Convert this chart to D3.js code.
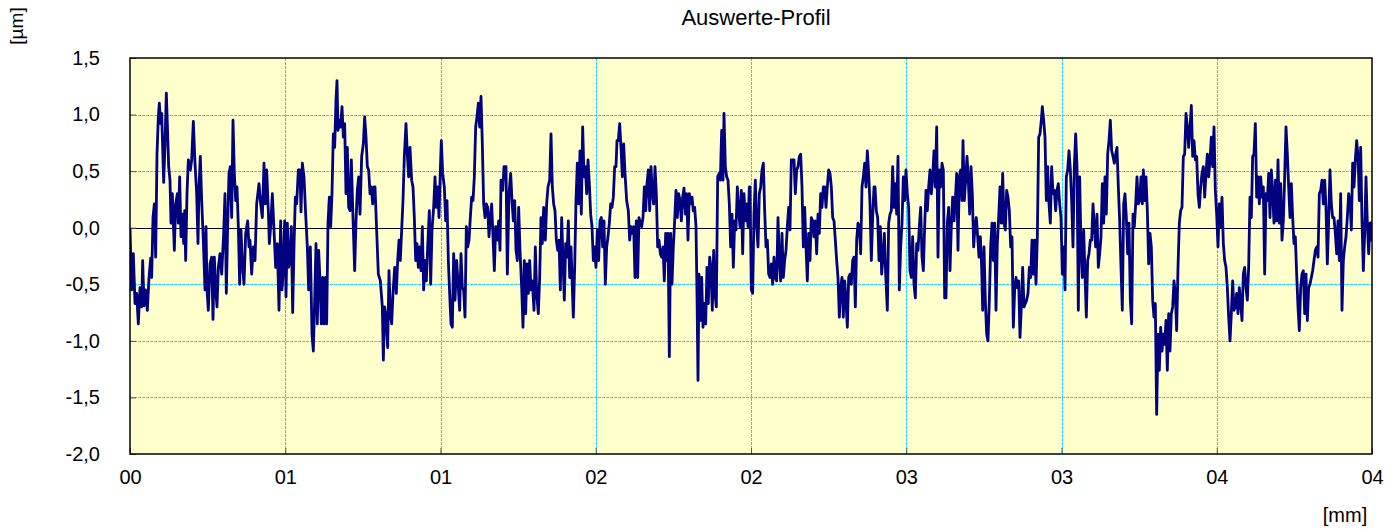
<!DOCTYPE html>
<html>
<head>
<meta charset="utf-8">
<script src="https://cdn.jsdelivr.net/npm/d3@7/dist/d3.min.js"></script>
<style>
  html, body { margin: 0; padding: 0; background: #fff; }
  svg text { font-family: "Liberation Sans", Arial, sans-serif; fill: #000; }
</style>
</head>
<body>
<div id="chart"></div>
<script>
// profile trace: sample number along the trace and height in µm
var sampleStepMm = 4 / 3726;

var sampleNo = [
  0,5,10,15,20,25,30,35,38,42,47,52,57,62,65,69,73,77,81,85,88,92,95,101,105,109,112,116,120,123,127,133,137,142,145,149,153,157,161,164,167,171,175,181,185,190,195,200,204,207,211,215,220,225,228,231,235,240,245,249,253,257,261,265,270,275,281,285,289,293,297,301,305,309,313,317,321,325,329,333,337,342,347,353,357,
  360,365,370,375,380,387,392,397,402,406,410,415,418,422,427,432,437,442,447,452,456,460,464,468,472,476,480,484,488,492,496,500,505,510,513,517,522,527,532,536,541,546,550,554,558,562,566,570,574,578,582,586,590,594,598,602,606,610,614,618,621,624,628,632,636,640,644,648,652,656,660,664,668,674,678,682,686,690,695,700,704,708,712,716,720,724,728,732,
  735,745,751,757,760,764,768,773,777,781,785,789,794,799,803,807,811,815,819,823,828,832,836,840,845,849,853,857,861,865,869,873,877,881,885,889,893,898,902,906,911,915,919,923,927,931,934,938,943,947,951,955,959,963,967,971,975,980,985,989,993,997,1001,1005,1009,1013,1017,1021,1025,1029,1033,1037,1041,1045,1049,1053,1057,1061,1065,1069,1073,1077,1081,1085,1089,1093,1097,1102,1106,
  1110,1113,1118,1122,1128,1132,1137,1142,1146,1150,1154,1158,1162,1166,1170,1175,1179,1183,1187,1191,1195,1199,1203,1207,1212,1216,1220,1225,1229,1233,1237,1241,1246,1250,1254,1259,1263,1267,1271,1275,1279,1283,1287,1291,1295,1299,1303,1307,1311,1315,1319,1323,1326,1330,1334,1338,1342,1346,1350,1354,1358,1362,1366,1370,1374,1378,1382,1386,1390,1394,1398,1402,1406,1410,1414,1418,1422,1426,1430,1434,1438,1442,1446,1450,1454,1458,1461,1465,1469,1473,1477,1481,1485,
  1490,1495,1499,1503,1507,1511,1515,1519,1523,1527,1531,1535,1539,1543,1547,1551,1555,1559,1563,1567,1571,1575,1579,1583,1587,1591,1595,1599,1603,1607,1611,1614,1618,1622,1626,1630,1634,1638,1642,1646,1650,1654,1658,1662,1666,1670,1674,1678,1682,1686,1690,1694,1698,1701,1704,1707,1711,1715,1719,1723,1727,1731,1735,1739,1743,1747,1751,1755,1759,1763,1767,1771,1775,1779,1782,1786,1790,1794,1798,1802,1806,1810,1814,1818,1822,1826,1830,1834,1838,1842,1846,1850,1854,1858,
  1860,1864,1868,1872,1876,1880,1884,1888,1892,1896,1900,1904,1908,1912,1916,1920,1924,1928,1932,1936,1940,1944,1948,1952,1956,1960,1964,1968,1972,1976,1980,1984,1988,1992,1996,2000,2004,2008,2012,2016,2020,2024,2028,2032,2036,2040,2044,2048,2052,2056,2060,2064,2068,2072,2076,2080,2084,2088,2092,2096,2100,2104,2108,2112,2116,2120,2124,2128,2132,2136,2140,2144,2148,2152,2156,2160,2164,2168,2172,2176,2180,2184,2188,2192,2196,2200,2204,2208,2212,2216,2220,2224,2228,2232,
  2235,2239,2243,2247,2251,2255,2259,2263,2267,2272,2276,2280,2284,2288,2292,2296,2300,2304,2308,2312,2316,2320,2324,2328,2332,2336,2340,2344,2348,2352,2356,2360,2364,2368,2372,2376,2380,2384,2388,2392,2396,2400,2404,2408,2412,2416,2420,2424,2428,2432,2436,2440,2444,2448,2452,2456,2460,2464,2468,2472,2476,2480,2484,2488,2492,2496,2499,2503,2507,2511,2515,2519,2523,2527,2531,2535,2539,2543,2547,2551,2555,2558,2562,2566,2570,2574,2578,2582,2586,2590,2594,2598,2602,2606,
  2610,2614,2618,2622,2626,2630,2634,2638,2642,2646,2650,2654,2658,2662,2666,2670,2674,2678,2682,2686,2690,2694,2698,2702,2706,2710,2714,2718,2722,2726,2730,2734,2737,2741,2745,2749,2753,2757,2761,2765,2769,2773,2777,2781,2785,2789,2793,2797,2801,2805,2809,2813,2817,2821,2825,2829,2833,2837,2841,2845,2849,2853,2857,2861,2865,2869,2873,2877,2881,2885,2889,2893,2897,2901,2905,2909,2913,2917,2921,2925,2929,2933,2937,2941,2945,2949,2953,2957,2961,2965,2969,2973,2977,2981,
  2985,2989,2993,2997,3001,3005,3009,3013,3017,3021,3025,3029,3033,3037,3040,3044,3048,3052,3056,3060,3064,3068,3072,3076,3080,3084,3088,3092,3096,3100,3104,3108,3112,3116,3120,3124,3128,3132,3136,3140,3144,3148,3152,3156,3160,3164,3168,3172,3176,3180,3184,3188,3192,3196,3200,3204,3208,3212,3216,3220,3224,3228,3232,3236,3240,3244,3248,3252,3256,3260,3264,3268,3272,3276,3280,3284,3288,3292,3296,3300,3304,3308,3312,3316,3320,3324,3328,3332,3336,3340,3344,3348,3352,3356,
  3360,3364,3368,3372,3376,3380,3384,3388,3392,3396,3400,3404,3408,3412,3416,3420,3424,3428,3432,3436,3440,3444,3448,3452,3456,3460,3464,3468,3472,3476,3480,3484,3488,3492,3496,3500,3504,3508,3512,3516,3520,3524,3528,3532,3536,3540,3544,3548,3552,3556,3560,3564,3568,3572,3576,3580,3584,3588,3592,3596,3600,3604,3608,3612,3616,3620,3624,3628,3632,3636,3640,3644,3648,3652,3656,3660,3664,3668,3672,3676,3680,3684,3688,3692,3696,3700,3704,3708,3712,3716,3720,3724,3726
];

var heightUm = [
  0.00,-0.55,-0.23,-0.67,-0.58,-0.85,-0.53,-0.70,-0.29,-0.69,-0.55,-0.73,-0.44,-0.27,-0.44,0.09,0.21,-0.26,0.65,0.98,1.10,0.92,1.01,0.40,0.74,1.19,0.92,0.54,0.42,0.04,0.30,-0.20,0.21,0.30,0.04,0.45,-0.08,0.12,-0.14,0.15,-0.29,0.30,0.60,0.51,0.60,0.94,0.57,0.30,-0.14,0.36,0.63,0.24,-0.11,-0.55,0.01,-0.55,-0.73,-0.32,-0.26,-0.81,-0.26,-0.53,-0.70,-0.35,-0.23,-0.41,-0.05,0.30,-0.58,0.01,0.48,0.54,0.09,0.95,0.48,0.24,0.36,0.01,-0.50,-0.02,-0.32,-0.50,-0.05,0.06,-0.17,
  -0.11,-0.41,-0.17,-0.29,0.21,0.39,0.21,0.09,0.57,0.21,0.51,0.15,-0.14,0.01,0.30,-0.02,-0.35,-0.14,-0.73,0.06,-0.55,-0.35,0.06,-0.61,0.04,-0.35,-0.29,0.01,-0.75,-0.17,0.27,0.21,0.51,0.51,0.14,0.57,0.45,0.12,-0.17,-0.55,-0.17,-0.94,-1.09,-0.64,-0.14,-0.85,-0.20,-0.47,-0.85,-0.44,-0.85,-0.44,-0.85,0.04,0.27,0.01,0.30,0.83,0.71,1.13,1.30,0.86,0.95,0.89,1.07,0.80,0.92,0.30,0.71,0.18,0.15,0.60,0.18,-0.38,0.06,0.33,0.45,0.12,0.63,0.74,0.98,0.80,0.54,0.51,0.30,0.36,0.21,0.36,
  0.36,-0.41,-0.47,-0.70,-1.17,-0.70,-0.79,-1.06,-0.38,-0.76,-0.85,-0.58,-0.35,-0.58,-0.29,-0.11,-0.29,-0.02,0.24,0.63,0.92,0.65,0.45,0.71,0.42,0.36,0.09,-0.29,-0.14,-0.35,-0.17,-0.38,0.01,-0.55,-0.29,-0.47,-0.17,0.15,-0.50,-0.02,0.18,0.45,0.18,0.36,0.09,0.51,0.77,0.48,0.36,0.06,0.24,-0.29,-0.58,-0.85,-0.88,-0.23,-0.64,-0.29,-0.53,-0.73,-0.23,-0.53,-0.55,-0.79,0.01,-0.17,-0.11,0.09,0.27,0.24,0.45,0.89,0.98,1.10,0.89,1.16,0.74,0.21,0.09,0.21,0.18,-0.08,0.09,0.21,-0.08,-0.38,0.01,-0.11,0.06,
  -0.20,0.42,0.33,0.54,0.54,-0.41,0.30,0.48,0.24,0.06,0.24,-0.20,-0.29,0.18,-0.20,-0.53,-0.88,-0.29,-0.76,-0.32,-0.58,-0.29,-0.55,-0.47,-0.73,-0.17,-0.58,-0.76,-0.44,0.09,-0.14,0.18,-0.11,0.21,0.36,0.42,0.83,0.36,0.21,0.15,-0.11,-0.20,-0.11,-0.55,0.09,-0.29,-0.64,-0.14,-0.26,0.06,-0.44,-0.17,-0.44,-0.79,-0.35,0.24,0.57,0.21,0.68,0.12,0.89,0.45,0.54,0.30,0.60,0.39,0.12,0.01,-0.29,-0.17,-0.35,-0.02,-0.29,0.06,0.09,-0.17,0.06,-0.50,-0.17,-0.08,0.04,0.21,0.18,0.27,0.54,0.54,0.77,0.77,0.92,0.71,0.45,0.74,0.48,
  0.24,0.15,-0.11,0.01,-0.05,0.01,-0.44,0.06,-0.44,0.09,0.04,0.01,0.09,0.36,0.15,0.39,0.51,0.15,0.54,0.30,0.21,0.54,0.30,-0.17,-0.11,-0.23,-0.26,-0.17,-0.47,-0.05,-0.29,-0.05,-1.14,-0.05,-0.50,-0.17,0.06,0.33,0.09,0.30,0.24,0.06,0.27,0.35,0.12,0.30,-0.11,0.30,0.21,0.27,0.15,0.18,0.01,-0.58,-1.35,-0.41,-0.82,-0.44,-0.88,-0.67,-0.85,-0.35,-0.67,-0.26,-0.35,-0.73,-0.20,-0.58,-0.70,0.45,0.48,0.42,0.86,0.42,1.01,0.54,0.45,0.42,0.21,-0.17,0.12,-0.35,0.06,-0.02,0.36,0.15,0.01,0.33,-0.23,0.30,0.06,0.21,0.01,0.36,
  0.36,-0.55,-0.58,0.12,0.42,0.01,-0.17,0.30,0.36,0.51,0.57,0.15,-0.17,-0.11,-0.41,-0.44,-0.32,-0.50,-0.26,-0.44,-0.47,0.09,-0.29,-0.47,-0.05,-0.44,-0.29,-0.20,0.01,0.18,-0.02,0.60,0.60,0.60,0.30,0.51,0.54,0.63,0.65,0.36,-0.17,0.18,-0.17,-0.47,-0.05,-0.29,0.09,0.06,-0.08,0.06,-0.23,0.12,-0.05,0.30,0.18,0.36,0.36,0.18,0.36,0.51,0.48,0.36,0.09,0.06,-0.11,-0.29,-0.44,-0.79,-0.53,-0.44,-0.79,-0.47,-0.64,-0.88,-0.44,-0.41,-0.50,-0.29,-0.26,-0.70,-0.11,0.04,0.01,-0.23,0.36,0.45,0.57,0.36,0.68,0.48,0.21,-0.29,0.09,0.36,
  0.36,0.15,0.09,-0.29,0.01,-0.41,-0.26,-0.05,-0.41,-0.73,0.04,0.12,0.15,0.54,0.18,0.39,0.12,0.63,-0.55,-0.17,0.04,0.45,0.24,0.51,0.30,0.18,-0.38,-0.44,-0.08,-0.50,-0.62,-0.14,-0.20,0.01,0.18,-0.26,-0.38,0.01,0.33,0.15,0.36,0.51,0.30,0.45,0.68,0.36,0.89,-0.26,0.51,0.36,0.57,0.51,-0.62,-0.62,0.04,0.18,-0.38,0.01,0.27,0.06,0.24,0.48,-0.20,0.45,0.51,0.24,0.77,0.24,0.42,0.63,0.42,0.12,0.54,0.30,-0.17,0.01,0.09,-0.08,-0.26,-0.08,-0.35,-0.73,-0.17,-0.64,-0.94,-1.00,-0.64,-0.17,0.04,-0.29,0.04,-0.73,-0.14,0.09,
  0.36,0.04,0.48,0.04,-0.02,0.33,0.27,0.15,-0.17,-0.08,-0.88,-0.55,-0.44,-0.53,-0.47,-0.97,-0.70,-0.35,-0.70,-0.67,-0.64,-0.58,-0.35,-0.44,-0.11,-0.41,-0.11,-0.50,-0.08,0.80,0.83,0.95,1.07,0.95,0.80,0.24,0.54,0.21,0.04,0.54,0.30,0.33,0.15,0.33,0.39,0.21,0.09,-0.41,-0.17,-0.55,0.45,0.51,0.68,0.51,0.24,-0.17,0.54,0.83,0.54,-0.73,0.45,-0.17,-0.44,-0.02,-0.41,-0.79,-0.29,-0.23,-0.11,-0.11,0.21,0.01,-0.17,0.12,-0.35,-0.23,-0.08,0.39,0.04,0.45,0.12,0.65,0.77,0.95,0.68,0.63,0.57,0.65,0.71,0.36,0.06,-0.35,-0.73,0.21,
  0.30,0.09,-0.23,0.04,-0.64,-0.85,0.12,0.01,0.21,0.45,0.21,0.24,0.45,0.21,0.51,0.24,0.45,0.15,-0.32,-0.05,-0.17,-0.64,-0.79,-0.67,-1.65,-0.94,-1.26,-0.88,-1.09,-0.94,-1.03,-0.82,-1.26,-0.76,-1.09,-0.76,-0.70,-0.47,-0.58,-0.91,-0.35,0.04,0.15,0.18,0.63,0.65,1.01,0.89,0.71,0.89,1.08,0.63,0.77,0.60,0.63,0.30,0.18,0.36,0.48,0.54,0.27,0.48,0.65,0.45,0.60,0.80,0.54,0.89,0.33,0.12,-0.17,0.21,0.01,0.27,-0.14,-0.29,-0.35,-0.53,-0.79,-1.00,-0.76,-0.47,-0.73,-0.70,-0.58,-0.76,-0.53,-0.67,-0.82,-0.41,-0.35,-0.53,-0.64,-0.35,
  0.27,0.09,0.63,0.65,0.92,0.27,0.45,0.21,0.45,0.27,0.36,-0.41,0.30,0.24,0.48,0.09,0.51,0.30,0.04,0.42,0.06,0.60,0.04,0.39,-0.11,0.06,0.45,0.89,0.65,0.36,0.09,0.39,0.09,-0.14,-0.08,-0.41,-0.70,-0.91,-0.53,-0.41,-0.38,-0.76,-0.41,-0.82,-0.53,-0.50,-0.44,-0.38,-0.29,-0.20,-0.17,-0.26,0.30,0.33,0.42,0.21,0.42,0.18,-0.32,0.06,0.51,0.21,0.09,0.09,-0.05,-0.23,0.06,-0.29,0.30,-0.73,-0.29,-0.17,-0.08,0.09,0.30,0.24,-0.02,0.57,0.36,0.60,0.77,0.63,0.24,0.71,0.06,-0.38,-0.05,0.45,0.04,-0.23,0.04,-0.11,0.06
];

var yTickValues = [-2, -1.5, -1, -0.5, 0, 0.5, 1, 1.5];
var xTickValues = [0, 0.5, 1, 1.5, 2, 2.5, 3, 3.5, 4];
var xTickLabels = ["00", "01", "01", "02", "02", "03", "03", "04", "04"];

var chartTitle = "Auswerte-Profil";
var yUnit = "[µm]";
var xUnit = "[mm]";

if (sampleNo.length !== heightUm.length) {
    throw new Error("data length mismatch " + sampleNo.length + " / " + heightUm.length);
}

var w = 1397,
    h = 531;
var plot = {left: 130, right: 1372, top: 58, bottom: 454};

var svg = d3.select("#chart").append("svg")
    .attr("width", w)
    .attr("height", h);

var x = d3.scaleLinear()
    .domain([0, 4])
    .range([plot.left, plot.right]);

var y = d3.scaleLinear()
    .domain([-2, 1.5])
    .range([plot.bottom, plot.top]);

var de = d3.formatLocale({decimal: ",", thousands: ".", grouping: [3], currency: ["", " €"], minus: "-"});
var fmtY = de.format(".1f");

var data = sampleNo.map(function (s, i) {
    return {dist: s * sampleStepMm, z: heightUm[i]};
});

// plot background
svg.append("rect")
    .attr("x", plot.left)
    .attr("y", plot.top)
    .attr("width", plot.right - plot.left)
    .attr("height", plot.bottom - plot.top)
    .style("fill", "#ffffcc");

// grid
var gridColor = "#33ccff";

svg.append("g")
    .selectAll("line")
    .data(yTickValues.filter(function (d) { return d !== 0 && d !== -2 && d !== 1.5; }))
    .enter()
    .append("line")
    .attr("x1", plot.left)
    .attr("x2", plot.right)
    .attr("y1", function (d) { return Math.round(y(d)) + 0.5; })
    .attr("y2", function (d) { return Math.round(y(d)) + 0.5; })
    .style("stroke", gridColor)
    .style("stroke-width", 1)
    .style("stroke-dasharray", "3,1");

svg.append("g")
    .selectAll("line")
    .data(xTickValues.slice(1, -1))
    .enter()
    .append("line")
    .attr("x1", function (d) { return Math.round(x(d)) + 0.5; })
    .attr("x2", function (d) { return Math.round(x(d)) + 0.5; })
    .attr("y1", plot.top)
    .attr("y2", plot.bottom)
    .style("stroke", gridColor)
    .style("stroke-width", 1)
    .style("stroke-dasharray", "3,1");

// zero line
svg.append("line")
    .attr("x1", plot.left)
    .attr("x2", plot.right)
    .attr("y1", Math.round(y(0)) + 0.5)
    .attr("y2", Math.round(y(0)) + 0.5)
    .style("stroke", "#000")
    .style("stroke-width", 1);

// axes (labels only, ticks drawn inward)
var yAxis = d3.axisLeft(y)
    .tickValues(yTickValues)
    .tickFormat(fmtY)
    .tickSize(-6)
    .tickPadding(30);

svg.append("g")
    .attr("transform", "translate(" + plot.left + ",0)")
    .call(yAxis)
    .call(function (g) {
        g.select(".domain").remove();
        g.selectAll(".tick line").style("stroke", "#555");
        g.selectAll("text")
            .style("font-family", "'Liberation Sans', Arial, sans-serif")
            .style("font-size", "20px")
            .style("fill", "#000");
    });

var xAxis = d3.axisBottom(x)
    .tickValues(xTickValues)
    .tickFormat(function (d, i) { return xTickLabels[i]; })
    .tickSize(-6)
    .tickPadding(16);

svg.append("g")
    .attr("transform", "translate(0," + plot.bottom + ")")
    .call(xAxis)
    .call(function (g) {
        g.select(".domain").remove();
        g.selectAll(".tick line").style("stroke", "#555");
        g.selectAll("text")
            .style("font-family", "'Liberation Sans', Arial, sans-serif")
            .style("font-size", "20px")
            .style("fill", "#000");
    });

// profile
svg.append("clipPath")
    .attr("id", "plot-clip")
    .append("rect")
    .attr("x", plot.left)
    .attr("y", plot.top)
    .attr("width", plot.right - plot.left)
    .attr("height", plot.bottom - plot.top);

var line = d3.line()
    .x(function (d) { return x(d.dist); })
    .y(function (d) { return y(d.z); });

svg.append("path")
    .datum(data)
    .attr("clip-path", "url(#plot-clip)")
    .attr("d", line)
    .style("fill", "none")
    .style("stroke", "#000080")
    .style("stroke-width", 2.8)
    .style("stroke-linejoin", "round");

// frame
svg.append("rect")
    .attr("x", plot.left)
    .attr("y", plot.top)
    .attr("width", plot.right - plot.left)
    .attr("height", plot.bottom - plot.top)
    .style("fill", "none")
    .style("stroke", "#000")
    .style("stroke-width", 1.5);

// texts
svg.append("text")
    .attr("x", (plot.left + plot.right) / 2 + 5)
    .attr("y", 25)
    .style("text-anchor", "middle")
    .style("font-size", "22px")
    .text(chartTitle);

svg.append("text")
    .attr("transform", "translate(23,26) rotate(-90)")
    .style("text-anchor", "middle")
    .style("font-size", "19px")
    .text(yUnit);

svg.append("text")
    .attr("x", 1345)
    .attr("y", 522)
    .style("text-anchor", "middle")
    .style("font-size", "20px")
    .text(xUnit);
</script>
</body>
</html>
